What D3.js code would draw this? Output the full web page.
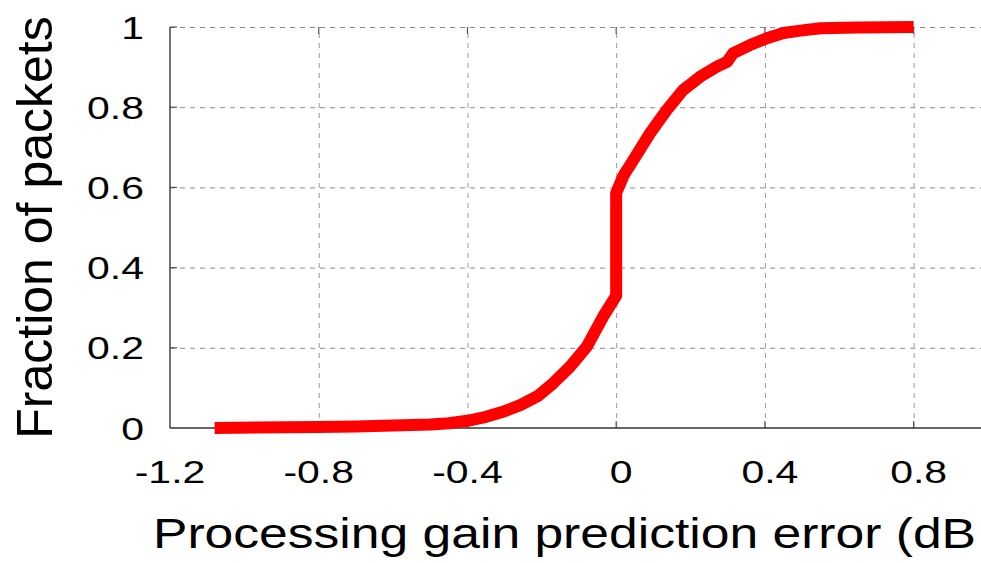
<!DOCTYPE html>
<html>
<head>
<meta charset="utf-8">
<script src="https://cdn.jsdelivr.net/npm/d3@7"></script>
<style>
  html, body { margin: 0; padding: 0; background: #fff; }
  svg { display: block; font-family: "Liberation Sans", Arial, Helvetica, sans-serif; }
</style>
</head>
<body>
<svg id="chart" width="981" height="563"></svg>
<script>
// ---- data ----
const errorDb = [-1.08, -0.8, -0.7, -0.6, -0.5, -0.45, -0.4, -0.35, -0.3, -0.258, -0.21, -0.169, -0.124, -0.079, -0.035, 0, 0, 0.02, 0.046, 0.091, 0.136, 0.18, 0.226, 0.271, 0.298, 0.315, 0.36, 0.405, 0.45, 0.495, 0.55, 0.65, 0.8];
const fraction = [0, 0.0025, 0.004, 0.006, 0.009, 0.012, 0.018, 0.028, 0.042, 0.057, 0.08, 0.112, 0.153, 0.203, 0.278, 0.33, 0.586, 0.63, 0.668, 0.735, 0.793, 0.843, 0.876, 0.901, 0.913, 0.935, 0.955, 0.972, 0.985, 0.991, 0.997, 0.999, 1.0];
const xTickValues = [-1.2, -0.8, -0.4, 0, 0.4, 0.8];
const xTickLabels = ["-1.2", "-0.8", "-0.4", "0", "0.4", "0.8"];
const yTickValues = [0, 0.2, 0.4, 0.6, 0.8, 1];
const yTickLabels = ["0", "0.2", "0.4", "0.6", "0.8", "1"];
const xTitle = "Processing gain prediction error (dB";
const yTitle = "Fraction of packets";

// ---- layout ----
const svg = d3.select("#chart");
const pL = 170, pR = 988, pT = 27, pB = 428;
const x = d3.scaleLinear().domain([-1.2, 1.0]).range([pL, pR]);
const y = d3.scaleLinear().domain([0, 1]).range([pB, pT]);
const stretch = 1.28;

// grid (vertical)
const gx = svg.append("g").attr("transform", `translate(0,${pB})`)
  .call(d3.axisBottom(x).tickValues(xTickValues.filter(v => v > -1.2)).tickSize(-(pB - pT)).tickFormat(""));
gx.select(".domain").remove();
gx.selectAll(".tick line").attr("stroke", "#9a9a9a").attr("stroke-width", 1).attr("stroke-dasharray", "5,5");

// grid (horizontal)
const gy = svg.append("g").attr("transform", `translate(${pL},0)`)
  .call(d3.axisLeft(y).tickValues(yTickValues.filter(v => v > 0)).tickSize(-(981 - pL)).tickFormat(""));
gy.select(".domain").remove();
gy.selectAll(".tick line").attr("stroke", "#8a8a8a").attr("stroke-width", 1).attr("stroke-dasharray", "5,5");

// inward ticks
const tk = svg.append("g").attr("stroke", "#555").attr("stroke-width", 1.2);
xTickValues.filter(v => v > -1.2).forEach(v => {
  tk.append("line").attr("x1", x(v)).attr("x2", x(v)).attr("y1", pB).attr("y2", pB - 7);
  tk.append("line").attr("x1", x(v)).attr("x2", x(v)).attr("y1", pT).attr("y2", pT + 7);
});
yTickValues.filter(v => v > 0).forEach(v => {
  tk.append("line").attr("x1", pL).attr("x2", pL + 7).attr("y1", y(v)).attr("y2", y(v));
});

// axis lines
svg.append("line").attr("x1", pL).attr("x2", pL).attr("y1", pT).attr("y2", pB)
  .attr("stroke", "#444").attr("stroke-width", 1.5);
svg.append("line").attr("x1", pL).attr("x2", 981).attr("y1", pB).attr("y2", pB)
  .attr("stroke", "#333").attr("stroke-width", 1.5);

// curve
const pts = errorDb.map((v, i) => [v, fraction[i]]);
svg.append("path")
  .datum(pts)
  .attr("fill", "none")
  .attr("stroke", "#ff0000")
  .attr("stroke-width", 12)
  .attr("stroke-linejoin", "round")
  .attr("stroke-linecap", "butt")
  .attr("d", d3.line().x(d => x(d[0])).y(d => y(d[1])));

// x tick labels
svg.append("g").selectAll("text").data(xTickValues).join("text")
  .attr("transform", (d) => `translate(${x(d) + (d >= 0 ? 5 : 0)},483) scale(${stretch},1)`)
  .attr("text-anchor", "middle")
  .attr("font-size", 32)
  .attr("fill", "#000")
  .text((d, i) => xTickLabels[i]);

// y tick labels
svg.append("g").selectAll("text").data(yTickValues).join("text")
  .attr("transform", (d) => `translate(144,${y(d) + 11.5}) scale(${stretch},1)`)
  .attr("text-anchor", "end")
  .attr("font-size", 32)
  .attr("fill", "#000")
  .text((d, i) => yTickLabels[i]);

// x title
svg.append("text")
  .attr("x", 153).attr("y", 548)
  .attr("font-size", 43)
  .attr("textLength", 823)
  .attr("lengthAdjust", "spacingAndGlyphs")
  .attr("fill", "#000")
  .text(xTitle);

// y title
svg.append("text")
  .attr("transform", "translate(52,227.5) rotate(-90)")
  .attr("text-anchor", "middle")
  .attr("font-size", 50)
  .attr("fill", "#000")
  .text(yTitle);
</script>
</body>
</html>
